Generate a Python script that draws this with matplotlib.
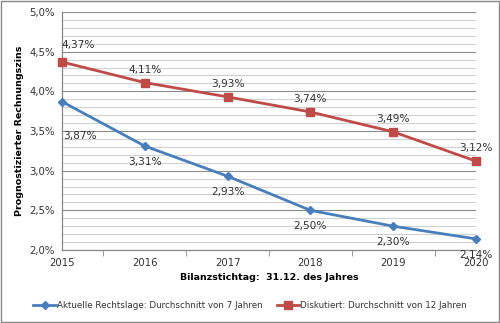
import matplotlib
matplotlib.use("Agg")
import matplotlib.pyplot as plt
from matplotlib.ticker import MultipleLocator, FuncFormatter
from matplotlib.patches import Rectangle

years = [2015, 2016, 2017, 2018, 2019, 2020]
aktuell = [3.87, 3.31, 2.93, 2.50, 2.30, 2.14]
diskutiert = [4.37, 4.11, 3.93, 3.74, 3.49, 3.12]
label_aktuell = "Aktuelle Rechtslage: Durchschnitt von 7 Jahren"
label_diskutiert = "Diskutiert: Durchschnitt von 12 Jahren"
ylabel = "Prognostizierter Rechnungszins"
xlabel = "Bilanzstichtag:  31.12. des Jahres"

blue = "#4A7EBB"
red = "#BE4B48"
fs_tick = 7.3
fs_data = 7.6
fs_leg = 6.3
fs_lab = 6.8

plt.rcParams['font.family'] = ['DejaVu Sans']
fig = plt.figure(figsize=(5.0, 3.23), dpi=100)
ax = fig.add_axes([62/500, 1-250/323, (476-62)/500, (250-12)/323])

ax.set_xlim(2015, 2020)
ax.set_ylim(2.0, 5.0)
ax.yaxis.set_major_locator(MultipleLocator(0.5))
ax.yaxis.set_minor_locator(MultipleLocator(0.1))
ax.yaxis.set_major_formatter(FuncFormatter(lambda v, p: f"{v:.1f}%".replace(".", ",")))
ax.set_xticks(years)
ax.set_xticklabels([str(y) for y in years])
ax.set_xticks([y + 0.5 for y in years[:-1]], minor=True)
ax.tick_params(axis='x', which='major', length=0, pad=6, labelsize=fs_tick, colors='#333333')
ax.tick_params(axis='x', which='minor', length=4, color='#868686', direction='out')
ax.tick_params(axis='y', which='both', length=0, pad=5, labelsize=fs_tick, colors='#333333')
ax.grid(True, which='major', axis='y', color='#8C8C8C', linewidth=0.8)
ax.grid(True, which='minor', axis='y', color='#D0D0D0', linewidth=0.8)
ax.set_axisbelow(True)
for s in ['top', 'right']:
    ax.spines[s].set_visible(False)
for s in ['left', 'bottom']:
    ax.spines[s].set_color('#868686')
    ax.spines[s].set_linewidth(0.9)

l1, = ax.plot(years, aktuell, color=blue, linewidth=2.0, marker='D', markersize=4.5,
              label=label_aktuell, clip_on=False, zorder=3)
l2, = ax.plot(years, diskutiert, color=red, linewidth=2.0, marker='s', markersize=5.5,
              label=label_diskutiert, clip_on=False, zorder=3)

px = 0.72
for i, (x, v) in enumerate(zip(years, aktuell)):
    dx, dy = (18, -34) if i == 0 else (0, -16)
    ax.annotate(f"{v:.2f}%".replace(".", ","), (x, v), xytext=(dx*px, dy*px),
                textcoords='offset points', ha='center', va='center', fontsize=fs_data,
                color='#333333', annotation_clip=False)
for i, (x, v) in enumerate(zip(years, diskutiert)):
    dx, dy = (16, 17) if i == 0 else (0, 13)
    ax.annotate(f"{v:.2f}%".replace(".", ","), (x, v), xytext=(dx*px, dy*px),
                textcoords='offset points', ha='center', va='center', fontsize=fs_data,
                color='#333333', annotation_clip=False)

ax.set_ylabel(ylabel, fontsize=fs_lab, fontweight='bold', labelpad=4)
ax.set_xlabel(xlabel, fontsize=fs_lab, fontweight='bold', labelpad=3)

fig.legend(handles=[l1, l2], loc='center', bbox_to_anchor=(0.5, 1-306/323), ncol=2,
           frameon=False, fontsize=fs_leg, handlelength=2.6, columnspacing=1.6,
           handletextpad=0.1, labelcolor='#333333')

fig.patches.append(Rectangle((0.002, 0.003), 0.995, 0.994, transform=fig.transFigure,
                             fill=False, edgecolor='#868686', linewidth=1.0))

fig.savefig("out.png", dpi=100)
